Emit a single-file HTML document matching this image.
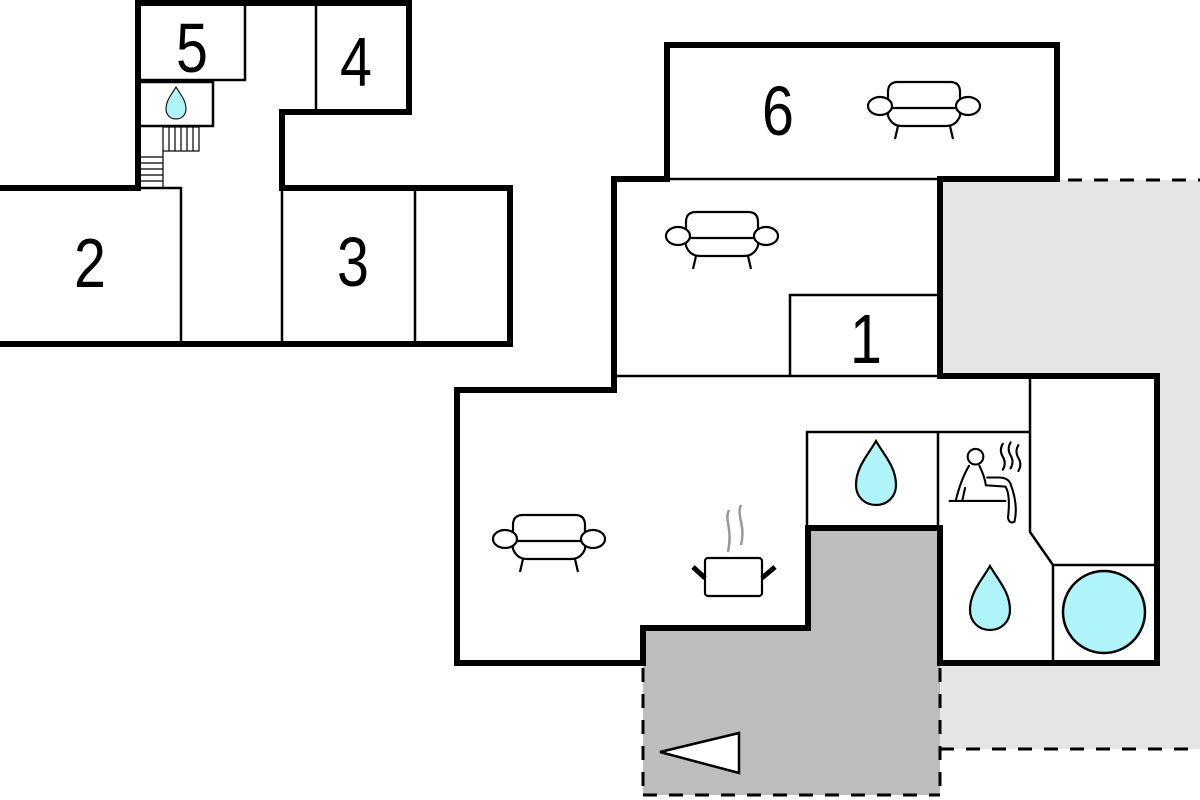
<!DOCTYPE html>
<html><head><meta charset="utf-8"><style>
html,body{margin:0;padding:0;background:#fff;width:1200px;height:800px;overflow:hidden}
svg{display:block}
text{font-family:"Liberation Sans",Arial,sans-serif;fill:#000}
</style></head><body>
<svg width="1200" height="800" viewBox="0 0 1200 800" xmlns="http://www.w3.org/2000/svg">
<defs>
<g id="sofa" fill="#fff" stroke="#000" stroke-width="2.2">
  <path d="M-36,4 L-36,-14 Q-36,-24 -26,-24 L26,-24 Q36,-24 36,-14 L36,4"/>
  <path d="M-36,4 L-36,10 Q-32,20 -22,20 L22,20 Q32,20 36,10 L36,4"/>
  <line x1="-36" y1="2" x2="36" y2="2"/>
  <ellipse cx="-44" cy="0" rx="12" ry="9"/>
  <ellipse cx="44" cy="0" rx="12" ry="9"/>
  <line x1="-26" y1="20" x2="-29" y2="33"/>
  <line x1="26" y1="20" x2="29" y2="33"/>
</g>
<path id="drop" d="M0,-34 C8,-20 20,-8 20,10 C20,22 11,30 0,30 C-11,30 -20,22 -20,10 C-20,-8 -8,-20 0,-34 Z" fill="#aef4f8" stroke="#000" stroke-width="2.2"/>
</defs>

<rect x="940" y="180" width="262" height="569" fill="#e5e5e5"/>
<polygon points="643,663 643,628 808,628 808,528 940,528 940,795 643,795" fill="#bdbdbd"/>

<g stroke="#000" stroke-width="3" stroke-dasharray="14,12" fill="none">
  <line x1="1068" y1="180" x2="1200" y2="180"/>
  <line x1="940" y1="749" x2="1200" y2="749"/>
  <line x1="940" y1="668" x2="940" y2="795"/>
  <line x1="643" y1="668" x2="643" y2="795"/>
  <line x1="643" y1="795" x2="940" y2="795"/>
</g>

<polygon points="614,179 667,179 667,45 1057,45 1057,179 940,179 940,376 1157,376 1157,663 940,663 940,528 808,528 808,628 643,628 643,663 457,663 457,390 614,390" fill="#fff"/>

<g stroke="#000" stroke-width="2.5" fill="none">
  <polyline points="140,80 245,80 245,5"/>
  <polyline points="140,126 213,126 213,82 140,82"/>
  <line x1="316" y1="3" x2="316" y2="112"/>
  <polyline points="140,188 181,188 181,344"/>
  <line x1="282" y1="188" x2="282" y2="344"/>
  <line x1="415" y1="188" x2="415" y2="344"/>
</g>
<g stroke="#000" stroke-width="1.2" fill="none">
  <rect x="163" y="127" width="36" height="24"/>
  <line x1="169" y1="127" x2="169" y2="151"/><line x1="175" y1="127" x2="175" y2="151"/>
  <line x1="181" y1="127" x2="181" y2="151"/><line x1="187" y1="127" x2="187" y2="151"/>
  <line x1="193" y1="127" x2="193" y2="151"/>
  <line x1="163" y1="151" x2="163" y2="187"/>
  <line x1="140" y1="157" x2="163" y2="157"/><line x1="140" y1="163" x2="163" y2="163"/>
  <line x1="140" y1="169" x2="163" y2="169"/><line x1="140" y1="175" x2="163" y2="175"/>
  <line x1="140" y1="181" x2="163" y2="181"/>
</g>
<polyline points="138,188 138,3 409,3 409,112 282,112 282,188 510,188 510,344 -5,344" fill="none" stroke="#000" stroke-width="6" stroke-linejoin="miter"/>
<line x1="-5" y1="188" x2="141" y2="188" stroke="#000" stroke-width="6"/>

<g stroke="#000" stroke-width="2.5" fill="none">
  <line x1="667" y1="179" x2="940" y2="179"/>
  <line x1="614" y1="376" x2="940" y2="376"/>
  <polyline points="790,376 790,295 940,295"/>
  <polyline points="807,528 807,432 1030,432"/>
  <line x1="938" y1="432" x2="938" y2="528"/>
  <polyline points="1030,376 1030,532 1053,565 1053,663"/>
  <line x1="1053" y1="565" x2="1157" y2="565"/>
</g>
<g stroke="#000" stroke-width="6" fill="none" stroke-linejoin="miter">
  <polyline points="667,179 667,45 1057,45 1057,179 940,179 940,376 1157,376 1157,663 940,663 940,528 808,528 808,628 643,628 643,663 457,663 457,390 614,390 614,179 670,179"/>
</g>

<g font-size="70" text-anchor="middle">
<text transform="translate(192,72) scale(0.82,1)">5</text>
<text transform="translate(356,86) scale(0.82,1)">4</text>
<text transform="translate(90,287) scale(0.82,1)">2</text>
<text transform="translate(353,286) scale(0.82,1)">3</text>
<text transform="translate(778,135) scale(0.82,1)">6</text>
<text transform="translate(866,363) scale(0.82,1)">1</text>
</g>

<use href="#sofa" transform="translate(924,106)"/>
<use href="#sofa" transform="translate(722,236)"/>
<use href="#sofa" transform="translate(549,539)"/>

<use href="#drop" transform="translate(876,475)"/>
<use href="#drop" transform="translate(990,600)"/>
<use href="#drop" transform="translate(176,104) scale(0.5)"/>

<circle cx="1104" cy="612" r="41" fill="#aef4f8" stroke="#000" stroke-width="2.5"/>

<g stroke="#000" fill="#fff">
  <rect x="705" y="558" width="57" height="38" rx="3" stroke-width="2.2"/>
  <line x1="693" y1="567" x2="705" y2="578" stroke-width="5"/>
  <line x1="775" y1="567" x2="762" y2="578" stroke-width="5"/>
  <path d="M729,510 C724,520 733,528 728,552 M741,505 C736,516 746,525 741,545" fill="none" stroke="#999" stroke-width="2.5"/>
</g>

<g transform="translate(982,484) scale(1.3) translate(-982,-484)" stroke="#000" stroke-width="1.6" fill="none" stroke-linecap="round">
  <circle cx="977" cy="463" r="6"/>
  <path d="M972,470 Q966,480 962,496 M980,470 Q984,478 985,485 L1000,486 Q1004,492 1002,510 Q1003,515 1007,513 Q1010,500 1004,484 Q1002,479 995,479 L986,479"/>
  <path d="M969,487 L967,496"/>
  <line x1="957" y1="497" x2="1000" y2="497"/>
  <path d="M998,453 q-3,5 0,10 q3,5 0,10 M1004,452 q-3,5 0,10 q3,5 0,10 M1010,454 q-3,5 0,10 q3,5 0,10"/>
</g>

<polygon points="660,752 739,733 739,773" fill="#fff" stroke="#000" stroke-width="2.5"/>
</svg>
</body></html>
